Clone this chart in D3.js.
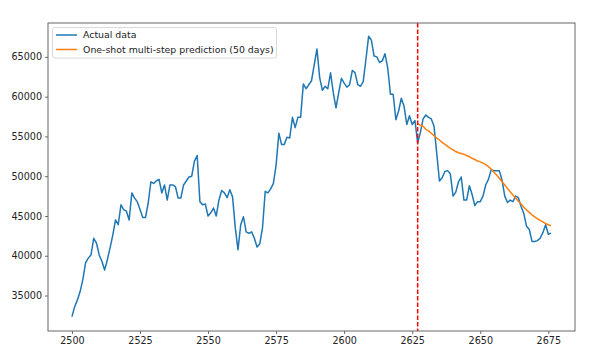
<!DOCTYPE html>
<html><head><meta charset="utf-8">
<script src="https://cdn.jsdelivr.net/npm/d3@7"></script>
<style>body{margin:0;background:#fff}svg{display:block}text{font-family:"DejaVu Sans",sans-serif}</style>
</head><body><svg id="c" width="612" height="364"></svg>
<script>
const startDay = 2500;
const actual = [32350,33600,34450,35500,37000,39100,39700,40100,42200,41600,
40100,39300,38200,39500,41000,42600,44500,43900,46400,45800,
45600,44500,47900,47250,46800,45800,44800,44800,46600,49300,
49100,49400,49600,47900,48900,47000,48900,48900,48700,47250,
47250,48900,49400,49900,50000,51900,52600,46800,46400,46500,
45000,45400,46000,45000,47000,48200,47900,47300,48300,47400,
43500,40750,43900,44900,43000,42800,43000,42200,41100,41500,
43500,48100,47900,48400,49100,51400,55400,54000,54000,54900,
54800,57400,56100,57400,57400,61600,61000,61500,62000,64000,
66000,62400,60800,61300,61000,63000,60500,58600,60500,62300,
61700,61200,61500,63300,63000,61500,61300,61900,64700,67600,
67100,65100,65000,64300,64500,65400,63600,60300,60300,57100,
58200,59800,58800,56500,57600,56500,57000,54200,55500,57200,
57700,57400,57200,56300,52900,49400,49800,50600,50700,50300,
47500,48000,49300,49900,47000,47000,48800,47700,46300,46800,
46800,47500,48900,49600,50800,50700,50700,50700,49500,47500,
46700,47000,46800,47500,47300,46200,45300,43700,43300,41800,
41800,41900,42200,42900,43900,42700,42850];
const predStartDay = 2627;
const prediction = [56600,56400,56270,55900,55700,55400,55100,54800,54550,54250,
54000,53750,53500,53300,53100,52950,52850,52750,52600,52450,
52250,52100,51900,51800,51650,51450,51200,50900,50500,50150,
49750,49300,48900,48450,48050,47650,47250,46850,46500,46100,
45750,45450,45150,44900,44650,44450,44250,44050,43900,43750];
const splitDay = 2627;
const xTicks = [2500,2525,2550,2575,2600,2625,2650,2675];
const yTicks = [35000,40000,45000,50000,55000,60000,65000];
const legendLabels = ["Actual data","One-shot multi-step prediction (50 days)"];

const svg = d3.select("#c");
const L=48, T=23, R=575, B=331;
const x = d3.scaleLinear().domain([2491.2,2684.8]).range([L,R]);
const y = d3.scaleLinear().domain([30540,69260]).range([B,T]);

const actualPts = actual.map((v,i)=>[startDay+i,v]);
const predPts = prediction.map((v,i)=>[predStartDay+i,v]);
const line = d3.line().x(d=>x(d[0])).y(d=>y(d[1]));

svg.append("path").datum(actualPts).attr("d",line).attr("fill","none")
  .attr("stroke","#1f77b4").attr("stroke-width",1.5).attr("stroke-linejoin","round");
svg.append("path").datum(predPts).attr("d",line).attr("fill","none")
  .attr("stroke","#ff7f0e").attr("stroke-width",1.5).attr("stroke-linejoin","round");
svg.append("line").attr("x1",x(splitDay)).attr("x2",x(splitDay)).attr("y1",T).attr("y2",B)
  .attr("stroke","#ff0000").attr("stroke-width",1.5).attr("stroke-dasharray","4.5,2");

const xa = svg.append("g").attr("transform",`translate(0,${B})`)
  .call(d3.axisBottom(x).tickValues(xTicks).tickFormat(d3.format("d")).tickSize(3).tickPadding(3));
const ya = svg.append("g").attr("transform",`translate(${L},0)`)
  .call(d3.axisLeft(y).tickValues(yTicks).tickFormat(d3.format("d")).tickSize(3).tickPadding(3));
[xa,ya].forEach(a=>{a.select(".domain").remove();
  a.selectAll("line").attr("stroke","#444").attr("stroke-width",0.8);
  a.selectAll("text").attr("font-size","9.6px").attr("fill","#222").attr("font-family","DejaVu Sans");});

svg.append("rect").attr("x",L).attr("y",T).attr("width",R-L).attr("height",B-T)
  .attr("fill","none").attr("stroke","#666").attr("stroke-width",1);

const lg = svg.append("g");
lg.append("rect").attr("x",52.5).attr("y",27.5).attr("width",224).attr("height",30.5)
  .attr("rx",2).attr("fill","#fff").attr("fill-opacity",0.8).attr("stroke","#d0d0d0").attr("stroke-width",0.8);
const lcol=["#1f77b4","#ff7f0e"];
legendLabels.forEach((t,i)=>{
  const yy = 35+i*14.5;
  lg.append("line").attr("x1",56).attr("x2",77).attr("y1",yy).attr("y2",yy)
    .attr("stroke",lcol[i]).attr("stroke-width",1.5);
  lg.append("text").attr("x",83).attr("y",yy).attr("dy","0.35em").attr("font-size","9.4px")
    .attr("fill","#222").text(t);
});
</script></body></html>
